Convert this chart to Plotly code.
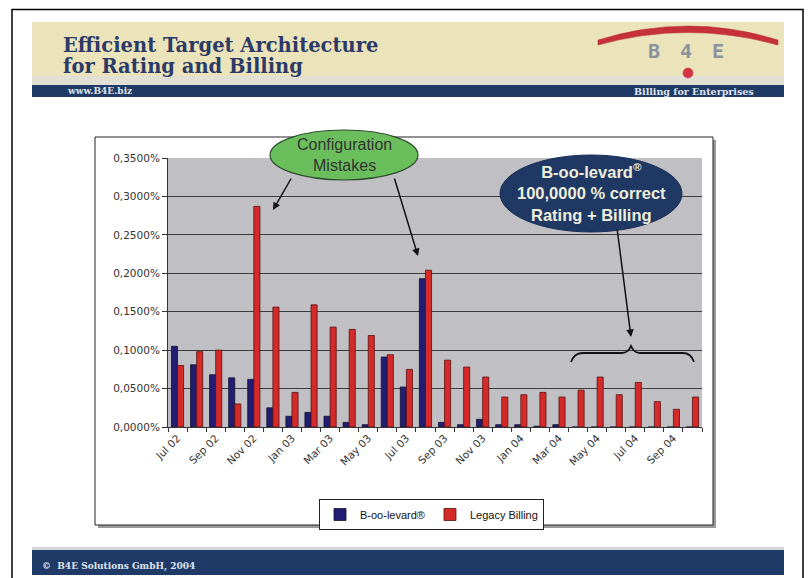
import plotly.graph_objects as go

# ---------------- data ----------------
months = ["Jul 02", "Aug 02", "Sep 02", "Oct 02", "Nov 02", "Dec 02",
          "Jan 03", "Feb 03", "Mar 03", "Apr 03", "May 03", "Jun 03",
          "Jul 03", "Aug 03", "Sep 03", "Oct 03", "Nov 03", "Dec 03",
          "Jan 04", "Feb 04", "Mar 04", "Apr 04", "May 04", "Jun 04",
          "Jul 04", "Aug 04", "Sep 04", "Oct 04"]
boolevard = [0.00105, 0.00081, 0.00068, 0.00064, 0.00062, 0.00025,
             0.00014, 0.00019, 0.00014, 0.00006, 0.00003, 0.00091,
             0.00052, 0.00193, 0.00006, 0.00003, 0.00010, 0.00003,
             0.00003, 0.00001, 0.00003, 0.0, 0.0, 0.0,
             0.0, 0.0, 0.0, 0.0]
legacy = [0.00080, 0.00098, 0.00100, 0.00030, 0.00287, 0.00156,
          0.00045, 0.00159, 0.00130, 0.00127, 0.00119, 0.00094,
          0.00075, 0.00204, 0.00087, 0.00078, 0.00065, 0.00039,
          0.00042, 0.00045, 0.00039, 0.00048, 0.00065, 0.00042,
          0.00058, 0.00033, 0.00023, 0.00039]
series_names = ["B-oo-levard®", "Legacy Billing"]
y_tickvals = [0, 0.0005, 0.0010, 0.0015, 0.0020, 0.0025, 0.0030, 0.0035]
y_ticktext = ["0,0000%", "0,0500%", "0,1000%", "0,1500%", "0,2000%",
              "0,2500%", "0,3000%", "0,3500%"]
x_idx = list(range(len(months)))

# ---------------- geometry helpers (page pixels -> paper) ----------------
PW, PH = 809, 578
L, R, T, B = 168, 702, 158, 427
W, H = R - L, B - T


def px(X):
    return (X - L) / W


def py(Y):
    return (B - Y) / H


def rect(x0, y0, x1, y1, fill, line=None, lw=0, layer="below"):
    return dict(type="rect", xref="paper", yref="paper",
                x0=px(x0), x1=px(x1), y0=py(y1), y1=py(y0),
                fillcolor=fill, layer=layer,
                line=dict(color=line or fill, width=lw))


def ellipse(x0, y0, x1, y1, fill, line, lw=1, layer="above"):
    return dict(type="circle", xref="paper", yref="paper",
                x0=px(x0), x1=px(x1), y0=py(y1), y1=py(y0),
                fillcolor=fill, layer=layer, line=dict(color=line, width=lw))


def path(cmds, fill=None, line="black", lw=1.5, layer="above"):
    s = ""
    for c in cmds:
        if isinstance(c, str):
            s += c + " "
        else:
            s += "%.5f,%.5f " % (px(c[0]), py(c[1]))
    d = dict(type="path", xref="paper", yref="paper", path=s.strip(),
             layer=layer, line=dict(color=line, width=lw))
    if fill:
        d["fillcolor"] = fill
    return d


fig = go.Figure()
fig.add_trace(go.Bar(x=x_idx, y=boolevard, name=series_names[0],
                     marker=dict(color="#221d72", line=dict(color="#111133", width=0.8))))
fig.add_trace(go.Bar(x=x_idx, y=legacy, name=series_names[1],
                     marker=dict(color="#d42a2a", line=dict(color="#5a1010", width=0.8))))

shapes = []
# slide frame
shapes.append(dict(type="rect", xref="paper", yref="paper",
                   x0=px(12), x1=px(803), y0=py(600), y1=py(9.5),
                   line=dict(color="black", width=1.5), layer="below"))
# header
shapes.append(rect(32, 22, 784, 76, "#ebe3ba"))
shapes.append(rect(32, 76, 784, 85, "#e2e0d4"))
shapes.append(rect(32, 85, 784, 97, "#1f3a66"))
# logo arc
shapes.append(path(["M", (598, 40), "Q", (688, 12), (778, 40), "L", (778, 45),
                    "Q", (688, 20), (598, 45), "Z"],
                   fill="#c5303c", line="#b82a36", lw=0.5, layer="below"))
shapes.append(dict(type="circle", xref="paper", yref="paper",
                   x0=px(683), x1=px(693), y0=py(78), y1=py(68),
                   fillcolor="#d63444", line=dict(color="#c02a3a", width=0.5),
                   layer="below"))
# footer
shapes.append(rect(32, 547, 784, 550, "#d4d6dc"))
shapes.append(rect(32, 550, 784, 575, "#1f3a66"))
# chart box with shadow
shapes.append(rect(98, 140, 716, 528, "#9a9a9a"))
shapes.append(rect(95, 137, 713, 525, "white", line="#222222", lw=1))
# plot area background
shapes.append(dict(type="rect", xref="paper", yref="paper", x0=0, x1=1, y0=0, y1=1,
                   fillcolor="#c0c0c4", line=dict(width=0), layer="below"))
# ellipses
shapes.append(ellipse(270, 130, 418, 180, "#6abf5c", "#2c4a2c", 1.2))
shapes.append(ellipse(500, 155, 682, 232, "#1f3864", "#1a2e55", 1))
# curly brace
shapes.append(path(["M", (571, 362), "Q", (574, 353), (583, 353),
                    "L", (622, 353), "Q", (628, 353), (631, 346),
                    "Q", (634, 353), (640, 353), "L", (683, 353),
                    "Q", (691, 353), (694, 362)], line="#111111", lw=1.8))

annotations = []
serif = "DejaVu Serif"
annotations.append(dict(xref="paper", yref="paper", x=px(61), y=py(45),
                        xanchor="left", yanchor="middle", showarrow=False,
                        text="<b>Efficient Target Architecture</b>",
                        font=dict(family=serif, size=19.5, color="#2b3a66")))
annotations.append(dict(xref="paper", yref="paper", x=px(61), y=py(66),
                        xanchor="left", yanchor="middle", showarrow=False,
                        text="<b>for Rating and Billing</b>",
                        font=dict(family=serif, size=19.5, color="#2b3a66")))
annotations.append(dict(xref="paper", yref="paper", x=px(65), y=py(91),
                        xanchor="left", yanchor="middle", showarrow=False,
                        text="<b>www.B4E.biz</b>",
                        font=dict(family=serif, size=9, color="#dfe4ee")))
annotations.append(dict(xref="paper", yref="paper", x=px(756), y=py(91),
                        xanchor="right", yanchor="middle", showarrow=False,
                        text="<b>Billing for Enterprises</b>",
                        font=dict(family=serif, size=9.5, color="#dfe4ee")))
for ch, cx in [("B", 654), ("4", 686), ("E", 718)]:
    annotations.append(dict(xref="paper", yref="paper", x=px(cx), y=py(51),
                            xanchor="center", yanchor="middle", showarrow=False,
                            text="<b>%s</b>" % ch,
                            font=dict(family="DejaVu Sans Mono", size=20, color="#8a929e")))
annotations.append(dict(xref="paper", yref="paper", x=px(40), y=py(566),
                        xanchor="left", yanchor="middle", showarrow=False,
                        text="<b>©  B4E Solutions GmbH, 2004</b>",
                        font=dict(family=serif, size=9, color="#dfe4ee")))
# ellipse texts
annotations.append(dict(xref="paper", yref="paper", x=px(344), y=py(155),
                        xanchor="center", yanchor="middle", showarrow=False,
                        text="Configuration<br>Mistakes",
                        font=dict(family="Liberation Sans", size=16, color="#333333")))
annotations.append(dict(xref="paper", yref="paper", x=px(591), y=py(192),
                        xanchor="center", yanchor="middle", showarrow=False,
                        text="<b>B-oo-levard<sup>®</sup><br>100,0000 % correct<br>Rating + Billing</b>",
                        font=dict(family="Liberation Sans", size=16.5, color="#eeeedd")))
# arrows (head, tail)
for hx, hy, tx, ty in [(273, 210, 292, 177), (418, 256, 394, 177), (631, 337, 617, 228)]:
    annotations.append(dict(xref="paper", yref="paper", x=px(hx), y=py(hy),
                            ax=tx - hx, ay=ty - hy, showarrow=True, text="",
                            arrowhead=2, arrowsize=1, arrowwidth=1.5,
                            arrowcolor="#111111"))

fig.update_layout(
    width=PW, height=PH,
    margin=dict(l=L, r=PW - R, t=T, b=PH - B, pad=0),
    paper_bgcolor="white", plot_bgcolor="rgba(0,0,0,0)",
    barmode="group", bargap=0.36, bargroupgap=0.0,
    shapes=shapes, annotations=annotations,
    font=dict(family="Liberation Sans", color="#333333"),
    legend=dict(orientation="h", x=px(319), y=py(499), xanchor="left", yanchor="top",
                bgcolor="white", bordercolor="#222222", borderwidth=1,
                font=dict(family="Liberation Sans", size=11, color="#111111"),
                itemwidth=30, tracegroupgap=0),
    xaxis=dict(range=[-0.5, len(months) - 0.5], tickmode="array",
               tickvals=x_idx[::2], ticktext=months[::2], tickangle=-45,
               ticks="", showgrid=False, zeroline=False,
               showline=True, linecolor="#333333", linewidth=1,
               tickfont=dict(family="DejaVu Sans", size=10.5, color="#333333"),
               minor=dict(ticks="outside", tick0=-0.5, dtick=1, ticklen=4,
                          tickcolor="#333333", showgrid=False)),
    yaxis=dict(range=[0, 0.0035], tickmode="array", tickvals=y_tickvals,
               ticktext=y_ticktext, ticks="outside", ticklen=5, tickcolor="#333333",
               showgrid=True, gridcolor="#3c3c3c", gridwidth=1, zeroline=False,
               showline=True, linecolor="#333333", linewidth=1,
               tickfont=dict(family="DejaVu Sans", size=10.5, color="#333333")),
)

fig.write_html("out.html", config={"displayModeBar": False},
               post_script="document.body.style.margin='0';document.body.style.overflow='hidden';")
